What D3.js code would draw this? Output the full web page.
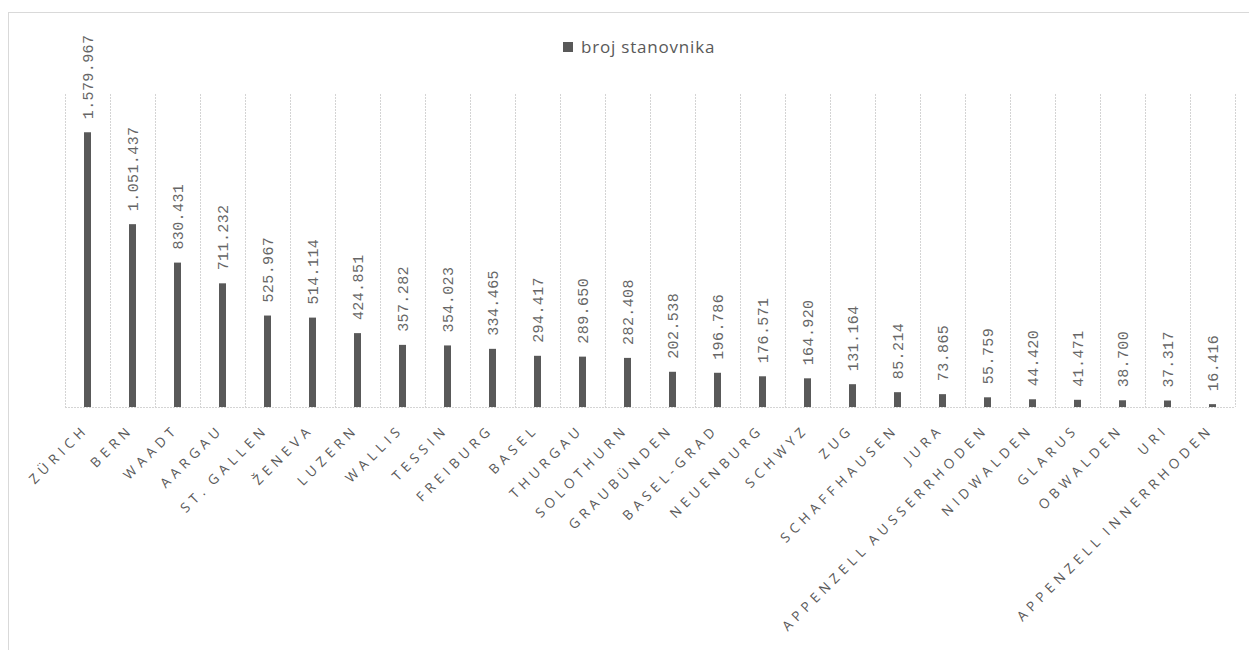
<!DOCTYPE html>
<html>
<head>
<meta charset="utf-8">
<script src="https://cdn.jsdelivr.net/npm/d3@7"></script>
<style>
  html, body { margin: 0; padding: 0; background: #fff; }
  svg { display: block; }
</style>
</head>
<body>
<svg id="chart" width="1249" height="650"></svg>
<script>
// Swiss cantons by population
const cantons = [
  "ZÜRICH", "BERN", "WAADT", "AARGAU", "ST. GALLEN", "ŽENEVA", "LUZERN", "WALLIS",
  "TESSIN", "FREIBURG", "BASEL", "THURGAU", "SOLOTHURN", "GRAUBÜNDEN", "BASEL-GRAD",
  "NEUENBURG", "SCHWYZ", "ZUG", "SCHAFFHAUSEN", "JURA", "APPENZELL AUSSERRHODEN",
  "NIDWALDEN", "GLARUS", "OBWALDEN", "URI", "APPENZELL INNERRHODEN"
];
const population = [
  1579967, 1051437, 830431, 711232, 525967, 514114, 424851, 357282,
  354023, 334465, 294417, 289650, 282408, 202538, 196786,
  176571, 164920, 131164, 85214, 73865, 55759,
  44420, 41471, 38700, 37317, 16416
];
const seriesName = "broj stanovnika";
const yMax = 1800000;

const svg = d3.select("#chart");

// chart frame
svg.append("rect")
  .attr("x", 8.5).attr("y", 12.5)
  .attr("width", 1300).attr("height", 700)
  .attr("fill", "#fff").attr("stroke", "#d9d9d9").attr("stroke-width", 1);

const x = d3.scaleBand().domain(cantons).range([65, 1235]).padding(0);
const y = d3.scaleLinear().domain([0, yMax]).range([407, 94]);

const fmt = d3.formatLocale({ decimal: ",", thousands: ".", grouping: [3], currency: ["", ""] }).format(",d");

// vertical gridlines at category boundaries
const bounds = cantons.map(c => x(c)).concat([x.range()[1]]);
svg.append("g").selectAll("line").data(bounds).join("line")
  .attr("x1", d => Math.round(d) + 0.5).attr("x2", d => Math.round(d) + 0.5)
  .attr("y1", y(yMax)).attr("y2", y(0))
  .attr("stroke", "#d4d4d4").attr("stroke-width", 1)
  .attr("stroke-dasharray", "2,1");

// category axis line
svg.append("line")
  .attr("x1", x.range()[0]).attr("x2", x.range()[1])
  .attr("y1", y(0) + 0.5).attr("y2", y(0) + 0.5)
  .attr("stroke", "#d4d4d4").attr("stroke-width", 1)
  .attr("stroke-dasharray", "2,1");

const data = cantons.map((c, i) => ({ c, v: population[i] }));
const barW = 7;

// bars
svg.append("g").selectAll("rect").data(data).join("rect")
  .attr("x", d => x(d.c) + x.bandwidth() / 2 - barW / 2)
  .attr("y", d => y(d.v))
  .attr("width", barW)
  .attr("height", d => y(0) - y(d.v))
  .attr("fill", "#595959");

// value labels above bars
svg.append("g").selectAll("text").data(data).join("text")
  .attr("transform", d => `translate(${x(d.c) + x.bandwidth() / 2},${y(d.v) - 13}) rotate(-90)`)
  .attr("dy", "0.35em")
  .attr("text-anchor", "start")
  .attr("font-family", "'Liberation Mono', 'DejaVu Sans Mono', monospace")
  .attr("font-size", 15)
  .attr("letter-spacing", "0.4px")
  .attr("fill", "#666")
  .text(d => fmt(d.v));

// category labels
svg.append("g").selectAll("text").data(data).join("text")
  .attr("transform", d => `translate(${x(d.c) + x.bandwidth() / 2 + 2},${y(0) + 23}) rotate(-45)`)
  .attr("text-anchor", "end")
  .attr("font-family", "'Open Sans', sans-serif")
  .attr("font-size", 13.5)
  .attr("letter-spacing", "4.9px")
  .attr("word-spacing", "-3px")
  .attr("fill", "#595959")
  .text(d => d.c);

// legend
const legend = svg.append("g");
legend.append("rect")
  .attr("x", 563).attr("y", 42).attr("width", 10).attr("height", 10)
  .attr("fill", "#595959");
legend.append("text")
  .attr("x", 581).attr("y", 53)
  .attr("font-family", "'Open Sans', sans-serif")
  .attr("font-size", 17)
  .attr("letter-spacing", "0.8px")
  .attr("fill", "#595959")
  .text(seriesName);
</script>
</body>
</html>
